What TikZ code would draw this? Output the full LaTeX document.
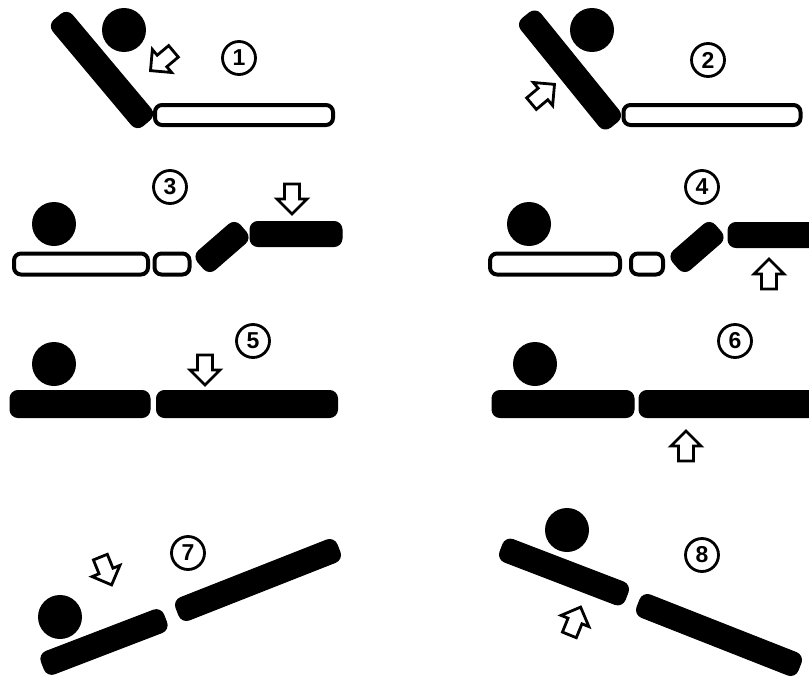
\documentclass[tikz,border=0pt]{standalone}
\usepackage{fontspec}
\usepackage{tikz}
\newfontfamily\numfont{Liberation Sans}

\tikzset{
  solidbar/.style={fill=black, draw=black, line width=1, rounded corners=8},
  openbar/.style={fill=white, draw=black, line width=4, rounded corners=7},
  ball/.style={fill=black},
  push/.style={fill=white, draw=black, line width=2.8, line join=miter},
  numlabel/.style={circle, draw, line width=2.8, minimum size=33, inner sep=0,
    font=\numfont\bfseries\fontsize{23}{23}\selectfont}
}
% bar: style, centre, length, thickness, angle
\newcommand{\slab}[5]{\draw[#1, shift={#2}, rotate=#5] (-#3/2,-#4/2) rectangle (#3/2,#4/2);}
% hollow block arrow: position, direction
\newcommand{\pusharrow}[2]{\draw[push, shift={#1}, rotate=#2]
  (-15,-7.5) -- (0,-7.5) -- (0,-15) -- (15,0) -- (0,15) -- (0,7.5) -- (-15,7.5) -- cycle;}

\begin{document}
\begin{tikzpicture}[x=1pt, y=-1pt]
		\useasboundingbox (0,0) rectangle (809,680);
		\clip (0,0) rectangle (809,680);
		% 1
		\slab{solidbar}{(102,70)}{138}{25}{-50}
		\fill[ball] (124,30) circle (22);
		\pusharrow{(162,61)}{220}
		\node[numlabel] (n1) at (239,58) {1};
		\slab{openbar}{(244,115)}{178}{20}{0}
		% 2
		\slab{solidbar}{(570,70)}{140}{25}{-51}
		\fill[ball] (592,30) circle (22);
		\pusharrow{(543,94)}{40}
		\node[numlabel] (n2) at (708,60) {2};
		\slab{openbar}{(712,115)}{177}{20}{0}
		% 3
		\fill[ball] (54,224) circle (22);
		\slab{openbar}{(81,264)}{134}{21}{0}
		\slab{openbar}{(172,264)}{35}{21}{0}
		\slab{solidbar}{(222,247)}{56}{25}{41}
		\slab{solidbar}{(296,234)}{92}{25}{0}
		\pusharrow{(292,199)}{-90}
		\node[numlabel] (n3) at (170,187) {3};
		% 4
		\fill[ball] (529,224) circle (22);
		\slab{openbar}{(555,264)}{130}{21}{0}
		\slab{openbar}{(647,264)}{32}{21}{0}
		\slab{solidbar}{(697,247)}{56}{25}{41}
		\slab{solidbar}{(781,235)}{106}{25}{0}
		\pusharrow{(769,274)}{90}
		\node[numlabel] (n4) at (702,187) {4};
		% 5
		\fill[ball] (54,364) circle (22);
		\slab{solidbar}{(80,404)}{140}{27}{0}
		\slab{solidbar}{(247,404)}{181}{27}{0}
		\pusharrow{(205,370)}{-90}
		\node[numlabel] (n5) at (253,341) {5};
		% 6
		\fill[ball] (535,364) circle (22);
		\slab{solidbar}{(563,404)}{142}{27}{0}
		\slab{solidbar}{(735,404)}{192}{27}{0}
		\pusharrow{(686,446)}{90}
		\node[numlabel] (n6) at (735,341) {6};
		% 7
		\fill[ball] (60,617) circle (22);
		\slab{solidbar}{(104,642)}{131}{24}{21}
		\slab{solidbar}{(258,580)}{173}{24}{21.5}
		\pusharrow{(106,571)}{-68}
		\node[numlabel] (n7) at (188,553) {7};
		% 8
		\fill[ball] (567,530) circle (22);
		\slab{solidbar}{(564,572)}{134}{24}{-21}
		\slab{solidbar}{(719,635)}{173}{24}{-21.5}
		\pusharrow{(575,621)}{68}
		\node[numlabel] (n8) at (702,555) {8};
\end{tikzpicture}
\end{document}
